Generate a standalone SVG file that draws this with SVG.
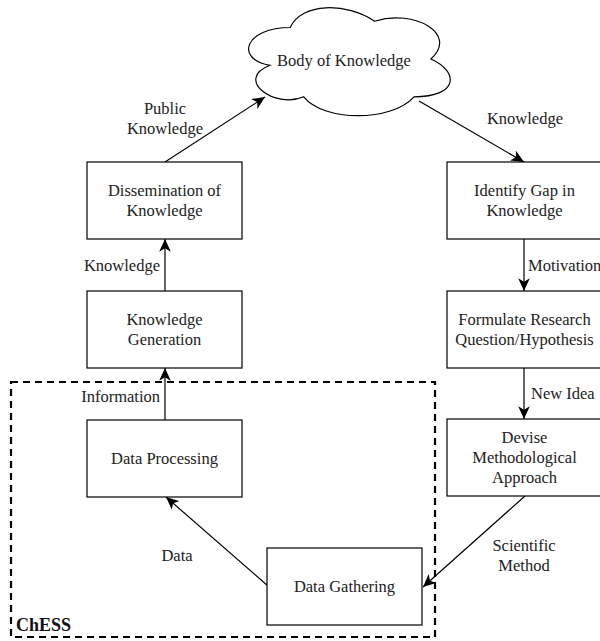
<svg xmlns="http://www.w3.org/2000/svg" width="600" height="641" viewBox="0 0 600 641" font-family="Liberation Serif, DejaVu Serif, serif">
<style>
.box{fill:#fff;stroke:#000;stroke-width:1.2}
.t{font-family:'Liberation Serif','DejaVu Serif',serif;font-size:16.5px;fill:#222;text-anchor:middle}
.ts{text-anchor:start}
.te{text-anchor:end}
.e{fill:none;stroke:#000;stroke-width:1.2;marker-end:url(#ah)}
</style>
<defs>
<marker id="ah" markerUnits="userSpaceOnUse" markerWidth="14" markerHeight="12" viewBox="0 0 12 10" refX="11" refY="5" orient="auto">
<path d="M0,0 L11,5 L0,10 L3,5 Z" fill="#000"/>
</marker>
</defs>
<rect width="600" height="641" fill="#fff"/>
<g id="chess">
<rect x="11" y="382" width="424" height="255" fill="none" stroke="#000" stroke-width="2.2" stroke-dasharray="7 5"/>
<text class="t ts" x="16" y="631" font-family="Liberation Serif, serif" style="font-weight:bold;font-size:18px;fill:#111">ChESS</text>
</g>
<g id="connectors">
<path class="e" d="M165,162 L265,97"/>
<path class="e" d="M419,101 L524,162"/>
<path class="e" d="M524,239 L524,291"/>
<path class="e" d="M524,368 L524,419"/>
<path class="e" d="M525,496 L423,587"/>
<path class="e" d="M268,586 L166,497"/>
<path class="e" d="M165,420 L165,368"/>
<path class="e" d="M165,291 L165,239"/>
<text class="t" x="165" y="113.5">Public</text>
<text class="t" x="165" y="133.5">Knowledge</text>
<text class="t" x="525" y="123.5">Knowledge</text>
<text class="t ts" x="528" y="270.5">Motivation</text>
<text class="t ts" x="531" y="398.5">New Idea</text>
<text class="t" x="524" y="550.5">Scientific</text>
<text class="t" x="524" y="570.5">Method</text>
<text class="t" x="177" y="561">Data</text>
<text class="t te" x="160" y="402">Information</text>
<text class="t te" x="160" y="271">Knowledge</text>
</g>
<g id="body-of-knowledge">
<path class="box" d="M290.25,27.5 C245.25,27.5 234,59 270,65.3 C234,79.16 274.5,109.4 303.75,96.8 C324,122 391.5,122 414,96.8 C459,96.8 459,71.6 430.88,59 C459,33.8 414,8.6 374.63,21.2 C346.5,2.3 301.5,2.3 290.25,27.5 Z"/>
<text class="t" x="344" y="65.5">Body of Knowledge</text>
</g>
<g id="dissemination">
<rect class="box" x="87" y="162" width="155" height="77"/>
<text class="t" x="164.5" y="196">Dissemination of</text>
<text class="t" x="164.5" y="216">Knowledge</text>
</g>
<g id="knowledge-generation">
<rect class="box" x="87" y="291" width="155" height="77"/>
<text class="t" x="164.5" y="325">Knowledge</text>
<text class="t" x="164.5" y="345">Generation</text>
</g>
<g id="data-processing">
<rect class="box" x="87" y="420" width="155" height="77"/>
<text class="t" x="164.5" y="464">Data Processing</text>
</g>
<g id="data-gathering">
<rect class="box" x="267" y="548" width="155" height="77"/>
<text class="t" x="344.5" y="592">Data Gathering</text>
</g>
<g id="identify-gap">
<rect class="box" x="447" y="162" width="155" height="77"/>
<text class="t" x="524.5" y="196">Identify Gap in</text>
<text class="t" x="524.5" y="216">Knowledge</text>
</g>
<g id="formulate">
<rect class="box" x="447" y="291" width="155" height="77"/>
<text class="t" x="524.5" y="325">Formulate Research</text>
<text class="t" x="524.5" y="345">Question/Hypothesis</text>
</g>
<g id="devise">
<rect class="box" x="447" y="419" width="155" height="77"/>
<text class="t" x="524.5" y="443">Devise</text>
<text class="t" x="524.5" y="463">Methodological</text>
<text class="t" x="524.5" y="483">Approach</text>
</g>
</svg>
